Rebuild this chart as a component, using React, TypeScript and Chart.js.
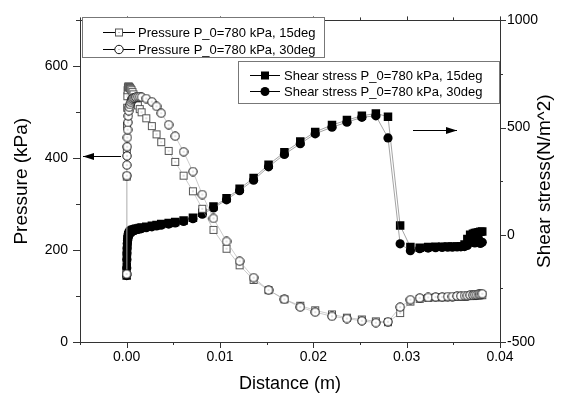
import React, { useEffect, useRef } from "react";
import { Chart, registerables } from "chart.js";

Chart.register(...registerables);

// Distance (m) — shared sampling grid of the four series
const distance = [
  0, 0.00001, 0.00002, 0.00003, 0.00005, 0.00007, 0.0001, 0.00013, 0.00017, 0.00022,
  0.00028, 0.00035, 0.00043, 0.00052, 0.00062, 0.00073, 0.00085, 0.001, 0.0012, 0.0014,
  0.0016, 0.0021, 0.0027, 0.0032, 0.0037, 0.0045, 0.0052, 0.0061, 0.0071, 0.0081,
  0.0093, 0.0107, 0.0121, 0.0136, 0.0152, 0.0169, 0.0186, 0.0202, 0.022, 0.0236,
  0.0252, 0.0267, 0.028, 0.0293, 0.0304, 0.0314, 0.0323,
  0.0331, 0.0338, 0.0344, 0.0349, 0.0354, 0.0358, 0.0362, 0.0365, 0.0368, 0.0371,
  0.0373, 0.0375, 0.0377, 0.0379, 0.0381,
];

// Pressure (kPa)
const pressure15 = [
  148, 360, 420, 470, 510, 535, 548, 554, 556, 556,
  555, 553, 551, 548, 544, 539, 532, 524, 515, 507,
  500, 487, 470, 452, 435, 416, 392, 362, 328, 290,
  244, 203, 167, 135, 113, 93, 79, 69, 60, 53,
  49, 45, 43, 63, 88, 94, 96,
  97, 97, 98, 98, 99, 99, 99, 100, 100, 100,
  101, 101, 101, 102, 102,
];
const pressure30 = [
  148, 362, 385, 405, 425, 445, 462, 478, 492, 503,
  511, 517, 522, 526, 529, 531, 532, 533, 534, 534,
  533, 530, 523, 513, 498, 473, 448, 414, 371, 321,
  269, 219, 176, 140, 113, 93, 76, 65, 56, 51,
  46, 42, 44, 76, 92, 96, 97,
  98, 98, 99, 99, 100, 100, 101, 101, 102, 102,
  103, 103, 104, 104, 105,
];

// Shear stress (N/m^2)
const shear15 = [
  -190, -150, -110, -80, -55, -35, -20, -10, -2, 4,
  9, 13, 17, 20, 22, 24, 26, 28, 30, 32,
  34, 38, 42, 46, 50, 55, 60, 67, 80, 103,
  132, 170, 215, 265, 327, 385, 435, 480, 512, 535,
  555, 566, 551, 43, -57, -60, -57,
  -56, -56, -55, -55, -54, -53, -45, -20, 0, 5,
  8, 10, 12, 14, 15,
];
const shear30 = [
  -190, -155, -115, -85, -60, -40, -25, -14, -6, 0,
  5, 9, 12, 15, 17, 19, 21, 23, 25, 27,
  29, 33, 37, 41, 45, 50, 55, 62, 75, 96,
  125, 163, 206, 255, 317, 375, 425, 471, 502, 525,
  548, 555, 452, -42, -74, -65, -62,
  -60, -59, -58, -58, -57, -56, -55, -50, -35, -25,
  -38, -30, -20, -40, -35,
];

const xTicks = [0, 0.01, 0.02, 0.03, 0.04];
const xMinorTicks = [-0.005, 0.005, 0.015, 0.025, 0.035];
const pressureTicks = [0, 200, 400, 600];
const pressureMinorTicks = [100, 300, 500, 700];
const shearTicks = [-500, 0, 500, 1000];
const shearMinorTicks = [-250, 250, 750];

const pressureLegend = ["Pressure P_0=780 kPa, 15deg", "Pressure P_0=780 kPa, 30deg"];
const shearLegend = ["Shear stress P_0=780 kPa, 15deg", "Shear stress P_0=780 kPa, 30deg"];
const xTitle = "Distance (m)";
const leftTitle = "Pressure (kPa)";
const rightTitle = "Shear stress(N/m^2)";

const FONT = '"Liberation Sans", Arial, sans-serif';

function paintMarker(ctx: CanvasRenderingContext2D, kind: string, x: number, y: number) {
  ctx.save();
  ctx.lineWidth = 1;
  if (kind === "openSquare") {
    ctx.fillStyle = "#fff";
    ctx.strokeStyle = "#555";
    ctx.fillRect(x - 4, y - 4, 8, 8);
    ctx.strokeRect(x - 3.5, y - 3.5, 7, 7);
    ctx.fillStyle = "#888";
    ctx.fillRect(x - 0.5, y - 0.5, 1, 1);
  } else if (kind === "openCircle") {
    ctx.fillStyle = "#fff";
    ctx.strokeStyle = "#111";
    ctx.beginPath();
    ctx.arc(x, y, 4.2, 0, Math.PI * 2);
    ctx.fill();
    ctx.stroke();
    ctx.fillStyle = "#999";
    ctx.fillRect(x - 0.5, y - 0.5, 1, 1);
  } else if (kind === "square") {
    ctx.fillStyle = "#000";
    ctx.fillRect(x - 4, y - 4, 8, 8);
  } else {
    ctx.fillStyle = "#000";
    ctx.beginPath();
    ctx.arc(x, y, 4.5, 0, Math.PI * 2);
    ctx.fill();
  }
  ctx.restore();
}

function markerImage(kind: string): HTMLCanvasElement {
  const c = document.createElement("canvas");
  c.width = 10;
  c.height = 10;
  const ctx = c.getContext("2d") as CanvasRenderingContext2D;
  paintMarker(ctx, kind, 5, 5);
  return c;
}

export default function App() {
  const ref = useRef<HTMLCanvasElement | null>(null);

  useEffect(() => {
    const canvas = ref.current;
    if (!canvas) return;
    const pts = (ys: number[]) => distance.map((x, i) => ({ x, y: ys[i] }));

    const overlay = {
      id: "overlay",
      beforeDatasetsDraw(chart: any) {
        const ctx: CanvasRenderingContext2D = chart.ctx;
        const { left, right, top, bottom } = chart.chartArea;
        const sx = chart.scales.x;
        const sy = chart.scales.y;
        const sy1 = chart.scales.y1;
        ctx.save();
        ctx.strokeStyle = "#333";
        ctx.lineWidth = 1;
        ctx.strokeRect(Math.round(left) + 0.5, Math.round(top) + 0.5, Math.round(right - left), Math.round(bottom - top));
        ctx.beginPath();
        const hTick = (v: number, len: number, topLen: number) => {
          const px = Math.round(sx.getPixelForValue(v)) + 0.5;
          ctx.moveTo(px, bottom);
          ctx.lineTo(px, bottom + len);
          ctx.moveTo(px, top);
          ctx.lineTo(px, top - topLen);
        };
        xTicks.forEach((v) => hTick(v, 6, 4));
        xMinorTicks.forEach((v) => hTick(v, 3, 3));
        const lTick = (v: number, len: number) => {
          const py = Math.round(sy.getPixelForValue(v)) + 0.5;
          ctx.moveTo(left, py);
          ctx.lineTo(left - len, py);
        };
        pressureTicks.forEach((v) => lTick(v, 7));
        pressureMinorTicks.forEach((v) => lTick(v, 4));
        const rTick = (v: number, len: number) => {
          const py = Math.round(sy1.getPixelForValue(v)) + 0.5;
          ctx.moveTo(right, py);
          ctx.lineTo(right + len, py);
        };
        shearTicks.forEach((v) => rTick(v, 6));
        shearMinorTicks.forEach((v) => rTick(v, 3));
        ctx.stroke();

        // axis titles
        ctx.fillStyle = "#000";
        ctx.textAlign = "center";
        ctx.textBaseline = "middle";
        ctx.font = `18px ${FONT}`;
        ctx.fillText(xTitle, (left + right) / 2, 384);
        ctx.save();
        ctx.translate(22, (top + bottom) / 2);
        ctx.rotate(-Math.PI / 2);
        ctx.font = `19px ${FONT}`;
        ctx.fillText(leftTitle, 0, 0);
        ctx.restore();
        ctx.save();
        ctx.translate(545, (top + bottom) / 2);
        ctx.rotate(-Math.PI / 2);
        ctx.font = `19px ${FONT}`;
        ctx.fillText(rightTitle, 0, 0);
        ctx.restore();
        ctx.restore();
      },
      afterDraw(chart: any) {
        const ctx: CanvasRenderingContext2D = chart.ctx;
        ctx.save();
        // arrows
        const arrow = (x0: number, x1: number, y: number) => {
          ctx.strokeStyle = "#000";
          ctx.fillStyle = "#000";
          ctx.lineWidth = 1.2;
          ctx.beginPath();
          ctx.moveTo(x0, y);
          ctx.lineTo(x1, y);
          ctx.stroke();
          const d = Math.sign(x1 - x0);
          ctx.beginPath();
          ctx.moveTo(x1, y);
          ctx.lineTo(x1 - d * 11, y - 3.5);
          ctx.lineTo(x1 - d * 11, y + 3.5);
          ctx.closePath();
          ctx.fill();
        };
        arrow(121, 83, 156.5);
        arrow(413, 457, 130.5);

        // legend boxes
        const box = (x: number, y: number, w: number, h: number) => {
          ctx.fillStyle = "#fff";
          ctx.fillRect(x, y, w, h);
          ctx.strokeStyle = "#777";
          ctx.lineWidth = 1;
          ctx.strokeRect(x + 0.5, y + 0.5, w, h);
        };
        const row = (x0: number, x1: number, xm: number, y: number, kind: string, text: string, tx: number) => {
          ctx.strokeStyle = "#000";
          ctx.lineWidth = 1;
          ctx.beginPath();
          ctx.moveTo(x0, y + 0.5);
          ctx.lineTo(x1, y + 0.5);
          ctx.stroke();
          paintMarker(ctx, kind, xm, y + 0.5);
          ctx.fillStyle = "#000";
          ctx.font = `13px ${FONT}`;
          ctx.textAlign = "left";
          ctx.textBaseline = "middle";
          ctx.fillText(text, tx, y + 1);
        };
        box(82, 17, 242, 40);
        row(103, 135, 119, 32, "openSquare", pressureLegend[0], 138);
        row(103, 135, 119, 49, "openCircle", pressureLegend[1], 138);
        box(238, 61, 261, 42);
        row(250, 280, 265, 75, "square", shearLegend[0], 284);
        row(250, 280, 265, 91, "circle", shearLegend[1], 284);
        ctx.restore();
      },
    };

    const tickFont = { size: 14, family: FONT };
    const chart = new Chart(canvas, {
      type: "scatter",
      data: {
        datasets: [
          {
            label: pressureLegend[1],
            data: pts(pressure30),
            yAxisID: "y",
            showLine: true,
            borderColor: "#aaa",
            borderWidth: 0.6,
            pointStyle: markerImage("openCircle"),
            pointRadius: 4.5,
          },
          {
            label: pressureLegend[0],
            data: pts(pressure15),
            yAxisID: "y",
            showLine: true,
            borderColor: "#aaa",
            borderWidth: 0.6,
            pointStyle: markerImage("openSquare"),
            pointRadius: 4.5,
          },
          {
            label: shearLegend[1],
            data: pts(shear30),
            yAxisID: "y1",
            showLine: true,
            borderColor: "#666",
            borderWidth: 0.6,
            pointStyle: "circle",
            pointRadius: 4.6,
            pointBackgroundColor: "#000",
            pointBorderColor: "#000",
            pointBorderWidth: 0,
          },
          {
            label: shearLegend[0],
            data: pts(shear15),
            yAxisID: "y1",
            showLine: true,
            borderColor: "#666",
            borderWidth: 0.6,
            pointStyle: "rect",
            pointRadius: 6,
            pointBackgroundColor: "#000",
            pointBorderColor: "#000",
            pointBorderWidth: 0,
          },
        ],
      },
      options: {
        animation: false,
        responsive: false,
        devicePixelRatio: 1,
        layout: { padding: { top: 16, left: 0, right: 0, bottom: 0 } },
        plugins: { legend: { display: false }, tooltip: { enabled: false } },
        scales: {
          x: {
            type: "linear",
            position: "bottom",
            min: -0.005,
            max: 0.04,
            afterBuildTicks: (s: any) => {
              s.ticks = xTicks.map((v) => ({ value: v }));
            },
            afterFit: (s: any) => {
              s.height = 57;
            },
            ticks: {
              callback: (v: any) => Number(v).toFixed(2),
              font: tickFont,
              color: "#000",
              padding: 7,
              maxRotation: 0,
              autoSkip: false,
            },
            grid: { display: false, drawTicks: false },
            border: { display: false },
          },
          y: {
            type: "linear",
            position: "left",
            min: 0,
            max: 700,
            afterBuildTicks: (s: any) => {
              s.ticks = pressureTicks.map((v) => ({ value: v }));
            },
            afterFit: (s: any) => {
              s.width = 80;
            },
            ticks: { callback: (v: any) => String(v), font: tickFont, color: "#000", padding: 12 },
            grid: { display: false, drawTicks: false },
            border: { display: false },
          },
          y1: {
            type: "linear",
            position: "right",
            min: -500,
            max: 1000,
            afterBuildTicks: (s: any) => {
              s.ticks = shearTicks.map((v) => ({ value: v }));
            },
            afterFit: (s: any) => {
              s.width = 62;
            },
            ticks: { callback: (v: any) => String(v), font: tickFont, color: "#000", padding: 7 },
            grid: { display: false, drawTicks: false },
            border: { display: false },
          },
        },
      },
      plugins: [overlay],
    } as any);
    return () => chart.destroy();
  }, []);

  return (
    <div style={{ position: "fixed", left: 0, top: 0, background: "#fff" }}>
      <canvas ref={ref} width={562} height={399} style={{ display: "block", width: 562, height: 399 }} />
    </div>
  );
}
